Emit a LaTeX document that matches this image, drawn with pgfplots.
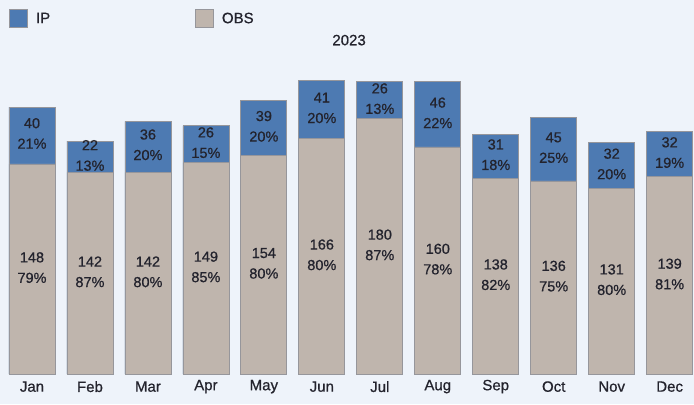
\documentclass[border=0pt]{standalone}
\usepackage{pgfplots}
\pgfplotsset{compat=1.18}
\usepackage{fontspec}
\setmainfont{Liberation Sans}[FakeBold=0.7]
\definecolor{ipblue}{RGB}{77,122,178}
\definecolor{obsbeige}{RGB}{191,181,173}
\definecolor{bgc}{RGB}{238,243,250}
\definecolor{txt}{RGB}{35,35,45}
\definecolor{edge}{RGB}{150,150,155}
\begin{document}
\begin{tikzpicture}
\fill[bgc] (0pt,-30pt) rectangle (694pt,374pt);
\begin{axis}[
  at={(0pt,0pt)}, anchor=south west,
  width=694pt, height=374pt, scale only axis,
  xmin=-0.552, xmax=11.42, ymin=0, ymax=263.4,
  axis line style={draw=none},
  ytick=\empty,
  xtick={0,...,11},
  xticklabels={Jan,Feb,Mar,Apr,May,Jun,Jul,Aug,Sep,Oct,Nov,Dec},
  major tick length=0pt,
  xticklabel style={font=\fontsize{15}{17}\selectfont, text=txt, anchor=center, yshift=-12.5pt},
  clip=false,
  title=2023,
  title style={at={(axis description cs:0.503,0.877)}, anchor=center, font=\fontsize{15}{17}\selectfont, text=txt},
  legend columns=2,
  legend style={at={(axis description cs:0,1)}, anchor=north west, xshift=9pt, yshift=-9pt,
    draw=none, fill=none, inner sep=0pt, font=\fontsize{15}{17}\selectfont, text=txt,
    /tikz/every odd column/.append style={column sep=6pt},
    /tikz/every even column/.append style={column sep=143pt}},
]
\addplot[ybar, bar width=46pt, bar shift=0pt, fill=ipblue, draw=edge, line width=0.8pt,
  legend image code/.code={\draw[fill=ipblue, draw=edge, line width=0.8pt] (0pt,-9pt) rectangle (18pt,9pt);}]
  coordinates {(0,188) (1,164) (2,178) (3,175) (4,193) (5,207) (6,206) (7,206) (8,169) (9,181) (10,163) (11,171)};
\addlegendentry{IP}
\addplot[ybar, bar width=46pt, bar shift=0pt, fill=obsbeige, draw=edge, line width=0.8pt,
  legend image code/.code={\draw[fill=obsbeige, draw=edge, line width=0.8pt] (0pt,-9pt) rectangle (18pt,9pt);}]
  coordinates {(0,148) (1,142) (2,142) (3,149) (4,154) (5,166) (6,180) (7,160) (8,138) (9,136) (10,131) (11,139)};
\addlegendentry{OBS}
% labels for OBS segments (centered)
\addplot[draw=none, mark=none, forget plot, nodes near coords, point meta=explicit symbolic,
  every node near coord/.append style={anchor=center, align=center, text=txt,
    font=\fontsize{14.5}{20.5}\selectfont}]
  coordinates {(0,75)[148\\79\%] (1,72)[142\\87\%] (2,72)[142\\80\%] (3,75.5)[149\\85\%]
    (4,78)[154\\80\%] (5,84)[166\\80\%] (6,91)[180\\87\%] (7,81)[160\\78\%]
    (8,70)[138\\82\%] (9,69)[136\\75\%] (10,66.5)[131\\80\%] (11,70.5)[139\\81\%]};
% labels for IP segments (centered)
\addplot[draw=none, mark=none, forget plot, nodes near coords, point meta=explicit symbolic,
  every node near coord/.append style={anchor=center, align=center, text=txt,
    font=\fontsize{14.5}{20.5}\selectfont}]
  coordinates {(0,169.5)[40\\21\%] (1,154)[22\\13\%] (2,161.5)[36\\20\%] (3,163)[26\\15\%]
    (4,174.5)[39\\20\%] (5,187.5)[41\\20\%] (6,194)[26\\13\%] (7,184)[46\\22\%]
    (8,154.5)[31\\18\%] (9,159.5)[45\\25\%] (10,148)[32\\20\%] (11,156)[32\\19\%]};
\end{axis}
\end{tikzpicture}
\end{document}
